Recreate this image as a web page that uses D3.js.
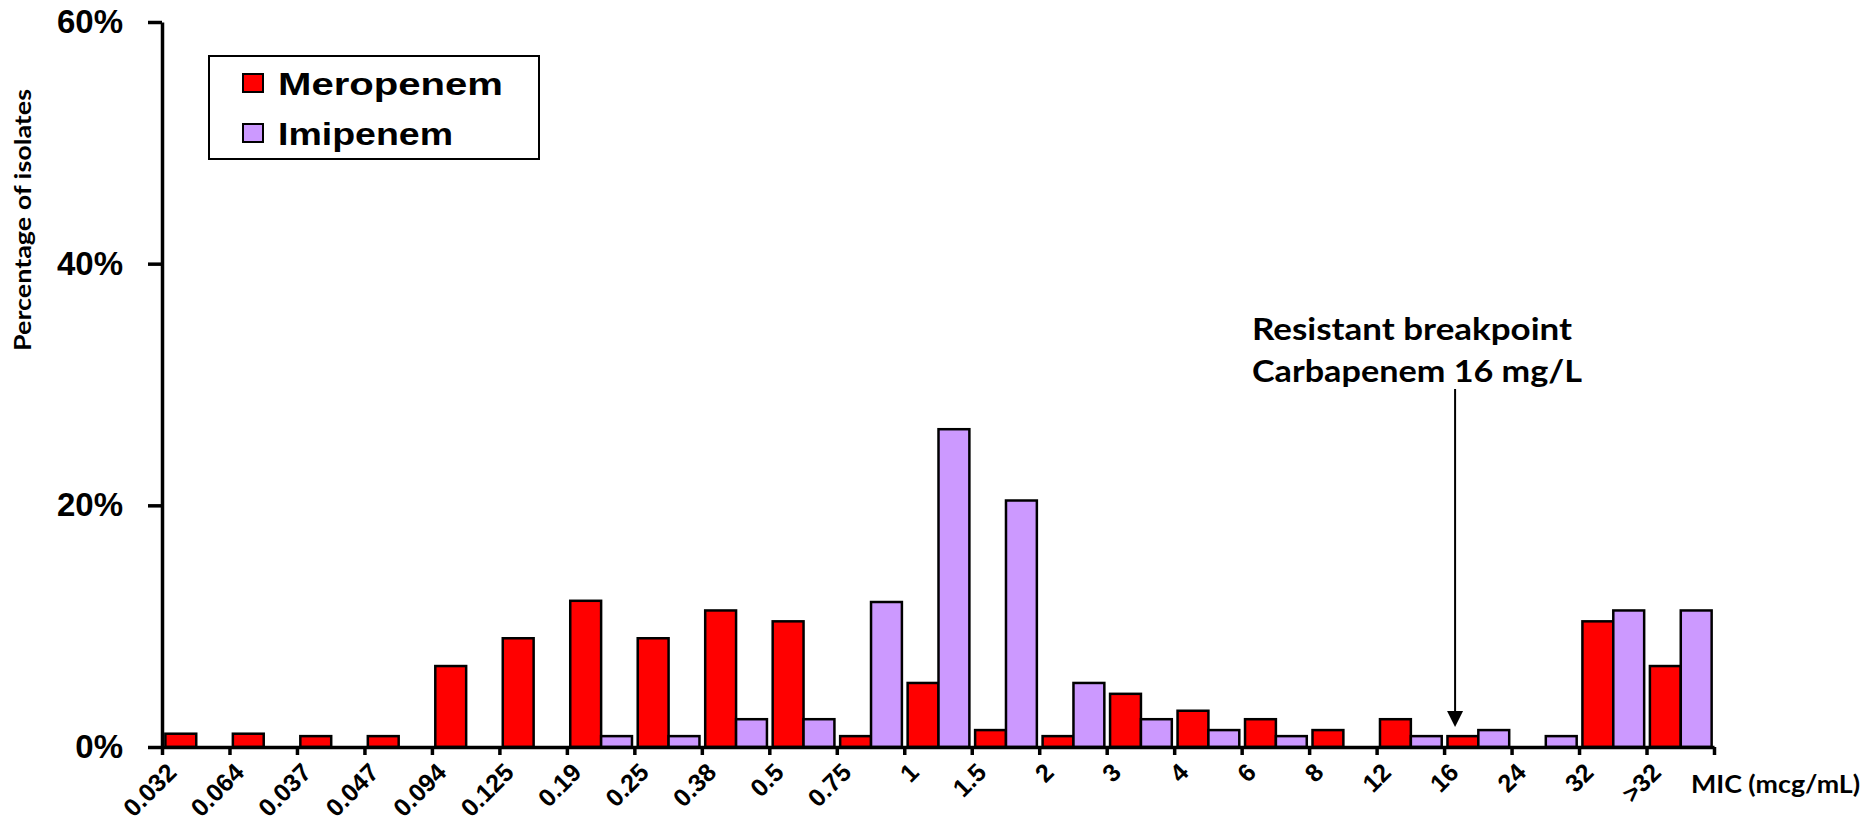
<!DOCTYPE html>
<html>
<head>
<meta charset="utf-8">
<script src="https://cdn.jsdelivr.net/npm/d3@7"></script>
<style>
  html, body { margin: 0; padding: 0; background: #fff; }
  svg { display: block; }
</style>
</head>
<body>
<svg id="chart" width="1866" height="824"></svg>
<script>
// ---------- data ----------
const categories = ["0.032","0.064","0.037","0.047","0.094","0.125","0.19","0.25","0.38","0.5","0.75","1","1.5","2","3","4","6","8","12","16","24","32",">32"];
const meropenem = [1.1,1.1,0.9,0.9,6.7,9.0,12.1,9.0,11.3,10.4,0.9,5.3,1.4,0.9,4.4,3.0,2.3,1.4,2.3,0.9,0,10.4,6.7];
const imipenem  = [0,0,0,0,0,0,0.9,0.9,2.3,2.3,12.0,26.3,20.4,5.3,2.3,1.4,0.9,0,0.9,1.4,0.9,11.3,11.3];
const seriesNames = ["Meropenem","Imipenem"];
const seriesColors = ["#FF0000","#CC99FF"];
const yTicks = [0,20,40,60];
const xTitle = "MIC (mcg/mL)";
const yTitle = "Percentage of isolates";
const annotation = ["Resistant breakpoint","Carbapenem 16 mg/L"];
const breakpointCategory = "16";

// ---------- layout ----------
const svg = d3.select("#chart");
const X0 = 162, X1 = 1714, Y0 = 747, Y1 = 22;

const x = d3.scaleBand().domain(categories).range([X0, X1]).paddingInner(0).paddingOuter(0);
const bw = x.bandwidth();
const xs = d3.scaleBand().domain(seriesNames).range([0.05 * bw, 0.965 * bw]);
const xEdges = d3.scaleLinear().domain([0, categories.length]).range([X0, X1]);
const y = d3.scaleLinear().domain([0, 60]).range([Y0, Y1]);

const rows = categories.map((c, i) => ({ cat: c, values: [meropenem[i], imipenem[i]] }));

// bars
const groups = svg.append("g").selectAll("g").data(rows).join("g")
  .attr("transform", d => `translate(${x(d.cat)},0)`);
groups.selectAll("rect")
  .data(d => d.values.map((v, k) => ({ v, k })).filter(e => e.v > 0))
  .join("rect")
  .attr("x", e => xs(seriesNames[e.k]))
  .attr("width", xs.bandwidth())
  .attr("y", e => y(e.v))
  .attr("height", e => Y0 - y(e.v))
  .attr("fill", e => seriesColors[e.k])
  .attr("stroke", "#000")
  .attr("stroke-width", 2.5);

// y axis
const yAxis = svg.append("g").attr("transform", `translate(${X0},0)`)
  .call(d3.axisLeft(y).tickValues(yTicks).tickSize(14).tickSizeOuter(0).tickPadding(25).tickFormat(d => d + "%"));
yAxis.select(".domain").attr("stroke", "#000").attr("stroke-width", 3.5);
yAxis.selectAll(".tick line").attr("stroke", "#000").attr("stroke-width", 3.5);
yAxis.selectAll(".tick text")
  .attr("font-family", "'Liberation Sans', Arial, sans-serif")
  .attr("font-weight", "bold").attr("font-size", 33).attr("fill", "#000");

// x axis (ticks on category boundaries)
const xAxis = svg.append("g").attr("transform", `translate(0,${Y0})`)
  .call(d3.axisBottom(xEdges).tickValues(d3.range(categories.length + 1)).tickSize(8).tickSizeOuter(0).tickFormat(""));
xAxis.select(".domain").attr("stroke", "#000").attr("stroke-width", 3.5);
xAxis.selectAll(".tick line").attr("stroke", "#000").attr("stroke-width", 3.5);

// x labels rotated
svg.append("g").selectAll("text").data(categories).join("text")
  .attr("transform", d => `translate(${x(d) + 16},${Y0 + 27}) rotate(-45)`)
  .attr("text-anchor", "end")
  .attr("font-family", "'Liberation Sans', Arial, sans-serif")
  .attr("font-weight", "bold").attr("font-size", 25).attr("fill", "#000")
  .text(d => d);

// helper: fit text to a given width
function fit(sel, w) {
  sel.attr("textLength", w).attr("lengthAdjust", "spacingAndGlyphs");
}

// x title
svg.append("text").attr("x", 1691).attr("y", 793)
  .attr("font-family", "Lato, 'Open Sans', sans-serif").attr("font-weight", "bold")
  .attr("font-size", 24).attr("fill", "#000").text(xTitle).call(fit, 169);

// y title
svg.append("text").attr("transform", "translate(31,220) rotate(-90)")
  .attr("text-anchor", "middle")
  .attr("font-family", "Lato, 'Open Sans', sans-serif").attr("font-weight", "bold")
  .attr("font-size", 22).attr("fill", "#000").text(yTitle).call(fit, 262);

// legend
const lg = svg.append("g");
lg.append("rect").attr("x", 209).attr("y", 56).attr("width", 330).attr("height", 103)
  .attr("fill", "#fff").attr("stroke", "#000").attr("stroke-width", 2);
const legendWidths = [225, 175];
seriesNames.forEach((name, k) => {
  lg.append("rect").attr("x", 243).attr("y", 74 + k * 50).attr("width", 20).attr("height", 18)
    .attr("fill", seriesColors[k]).attr("stroke", "#000").attr("stroke-width", 2);
  lg.append("text").attr("x", 278).attr("y", 95 + k * 50)
    .attr("font-family", "'Liberation Sans', Arial, sans-serif").attr("font-weight", "bold")
    .attr("font-size", 32).attr("fill", "#000").text(name).call(fit, legendWidths[k]);
});

// annotation
const annWidths = [320, 330];
annotation.forEach((t, i) => {
  svg.append("text").attr("x", 1252).attr("y", 340 + i * 42)
    .attr("font-family", "Lato, 'Open Sans', sans-serif").attr("font-weight", "bold")
    .attr("font-size", 30).attr("fill", "#000").text(t).call(fit, annWidths[i]);
});
const ax = x(breakpointCategory) + 11;
svg.append("line").attr("x1", ax).attr("x2", ax).attr("y1", 389).attr("y2", 713)
  .attr("stroke", "#000").attr("stroke-width", 2);
svg.append("path")
  .attr("d", `M${ax - 8},711 L${ax + 8},711 L${ax},727 Z`)
  .attr("fill", "#000");
</script>
</body>
</html>
